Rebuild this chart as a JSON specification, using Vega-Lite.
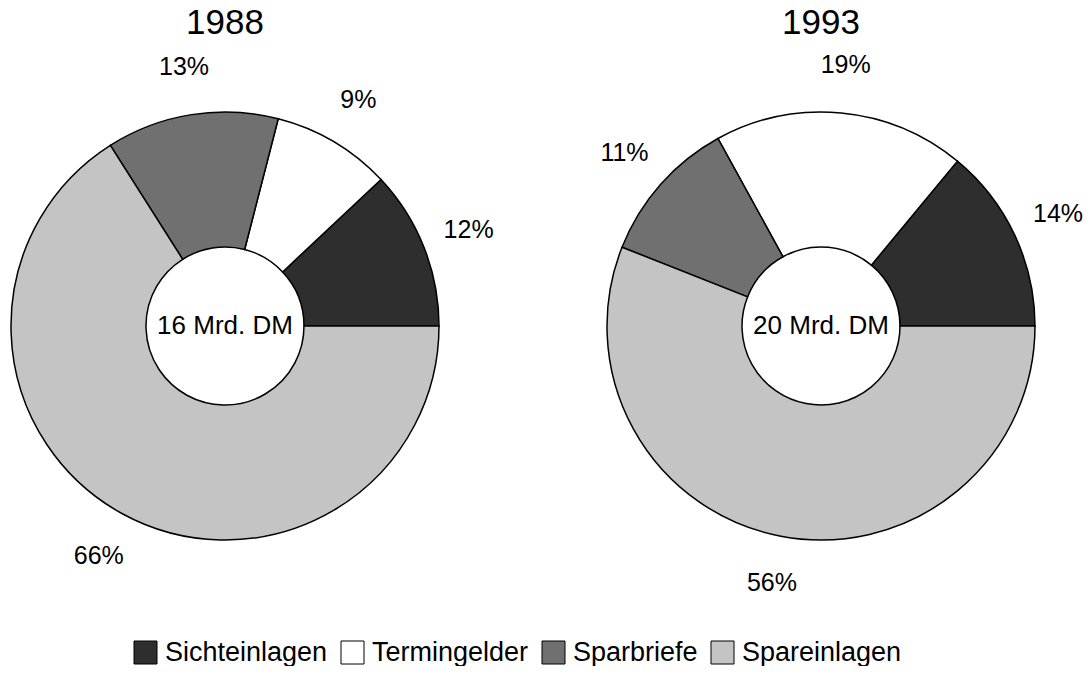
{
  "$schema": "https://vega.github.io/schema/vega-lite/v6.json",
  "padding": {"left": 8, "top": 6, "right": 0, "bottom": 0},
  "background": "white",
  "config": {"view": {"stroke": null}, "font": "Liberation Sans"},
  "data": {"values": [
    {"year": "1988", "category": "Sichteinlagen", "value": 12, "rank": 4, "label": "12%", "total": "16 Mrd. DM"},
    {"year": "1988", "category": "Termingelder", "value": 9, "rank": 3, "label": "9%", "total": "16 Mrd. DM"},
    {"year": "1988", "category": "Sparbriefe", "value": 13, "rank": 2, "label": "13%", "total": "16 Mrd. DM"},
    {"year": "1988", "category": "Spareinlagen", "value": 66, "rank": 1, "label": "66%", "total": "16 Mrd. DM"},
    {"year": "1993", "category": "Sichteinlagen", "value": 14, "rank": 4, "label": "14%", "total": "20 Mrd. DM"},
    {"year": "1993", "category": "Termingelder", "value": 19, "rank": 3, "label": "19%", "total": "20 Mrd. DM"},
    {"year": "1993", "category": "Sparbriefe", "value": 11, "rank": 2, "label": "11%", "total": "20 Mrd. DM"},
    {"year": "1993", "category": "Spareinlagen", "value": 56, "rank": 1, "label": "56%", "total": "20 Mrd. DM"}
  ]},
  "facet": {"column": {"field": "year", "type": "ordinal", "title": null,
    "header": {"labelFontSize": 35, "labelPadding": 12, "labelFont": "Liberation Sans", "labelColor": "black"}}},
  "spacing": 106,
  "resolve": {"scale": {"theta": "independent"}},
  "spec": {
    "width": 428,
    "height": 428,
    "layer": [
      {
        "mark": {"type": "arc", "innerRadius": 79, "outerRadius": 214, "stroke": "black", "strokeWidth": 1.5},
        "encoding": {
          "theta": {"field": "value", "type": "quantitative", "stack": true, "scale": {"range": [1.5708, 7.854]}},
          "order": {"field": "rank", "type": "quantitative"},
          "color": {"field": "category", "type": "nominal",
            "scale": {"domain": ["Sichteinlagen", "Termingelder", "Sparbriefe", "Spareinlagen"],
                      "range": ["#2e2e2e", "#ffffff", "#707070", "#c4c4c4"]},
            "legend": {"title": null, "orient": "none", "direction": "horizontal", "legendX": 121, "legendY": 527,
              "symbolType": "square", "symbolSize": 529, "symbolStrokeColor": "black", "symbolStrokeWidth": 1,
              "labelFontSize": 27, "labelFont": "Liberation Sans", "labelColor": "black", "labelLimit": 300,
              "columnPadding": 11, "labelOffset": 6, "symbolOpacity": 1}
          }
        }
      },
      {
        "mark": {"type": "text", "radius": 262, "fontSize": 25, "font": "Liberation Sans", "color": "black"},
        "encoding": {
          "theta": {"field": "value", "type": "quantitative", "stack": true},
          "order": {"field": "rank", "type": "quantitative"},
          "text": {"field": "label"}
        }
      },
      {
        "transform": [{"filter": "datum.rank == 1"}],
        "mark": {"type": "text", "fontSize": 26, "font": "Liberation Sans", "color": "black"},
        "encoding": {
          "text": {"field": "total"}
        }
      }
    ]
  }
}
